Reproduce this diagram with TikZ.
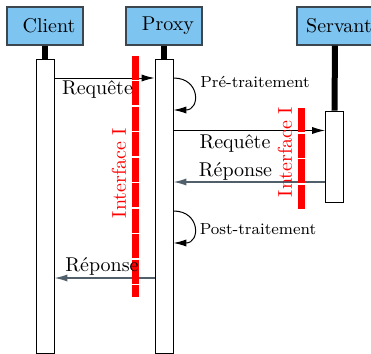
\documentclass[tikz,border=0pt]{standalone}
\usetikzlibrary{arrows.meta}
\definecolor{hdrblue}{RGB}{126,196,240}
\definecolor{hdredge}{RGB}{60,70,78}
\definecolor{retcol}{RGB}{80,95,105}
\tikzset{
  hdr/.style={draw=hdredge,line width=0.6pt,fill=hdrblue,minimum width=38pt,minimum height=19pt,inner sep=0pt,font=\normalsize},
  actbox/.style={draw=black,line width=0.45pt,fill=white,minimum width=9pt,inner sep=0pt},
  lifeln/.style={line width=3pt,black},
  msg/.style={line width=0.5pt,-{Latex[length=6.5pt,width=3.6pt]}},
  retmsg/.style={msg,line width=0.7pt,draw=retcol},
  redbar/.style={line width=3.5pt,red,dash pattern=on 12.2pt off 0.55pt},
  lbl/.style={inner sep=0pt,font=\normalsize},
  slbl/.style={inner sep=0pt,font=\footnotesize},
  ilbl/.style={inner sep=0pt,font=\normalsize,text=red,rotate=90}
}
\begin{document}
\begin{tikzpicture}[x=0.5pt,y=-0.5pt]
\useasboundingbox (0,0) rectangle (371,354);
\clip (0,0) rectangle (371,354);
% headers
\node[hdr] (client) at (45,26) {\hspace{4pt}Client};
\node[hdr] (proxy) at (164,26) {\hspace{4pt}Proxy};
\node[hdr] (servant) at (335,26) {\hspace{4pt}Servant};
% activation boxes
\node[actbox,minimum height=147pt] (cact) at (45,206) {};
\node[actbox,minimum height=147pt] (pact) at (164,206) {};
\node[actbox,minimum height=45.5pt] (sact) at (334.5,156.5) {};
% lifelines
\draw[lifeln] (client.south) -- (cact.north);
\draw[lifeln] (proxy.south) -- (pact.north);
\draw[lifeln] (servant.south) -- (sact.north);
% levels
\coordinate (y1) at (0,78);
\coordinate (y2) at (0,110);
\coordinate (y3) at (0,130.5);
\coordinate (y4) at (0,182);
\coordinate (y5) at (0,211);
\coordinate (y6) at (0,243);
\coordinate (y7) at (0,278);
% messages
\draw[msg] (cact.east |- y1) -- (pact.west |- y1);
\draw[msg] (pact.east |- y1) .. controls +(27,0) and +(27,0) .. (pact.east |- y2);
\draw[msg] (pact.east |- y3) -- (sact.west |- y3);
\draw[retmsg] (sact.west |- y4) -- (pact.east |- y4);
\draw[msg] (pact.east |- y5) .. controls +(27,0) and +(27,0) .. (pact.east |- y6);
\draw[retmsg] (pact.west |- y7) -- (cact.east |- y7);
% interface bars
\coordinate (ib1a) at (136,55.5);
\coordinate (ib1b) at (136,297);
\coordinate (ib2a) at (302,108);
\coordinate (ib2b) at (302,209);
\draw[redbar] (ib1a) -- (ib1b);
\draw[redbar] (ib2a) -- (ib2b);
% labels
\node[lbl] (l1) at (97.5,90) {Requête};
\node[slbl] (l2) at (255,82) {Pré-traitement};
\node[lbl] (l3) at (235,144) {Requête};
\node[lbl] (l4) at (235.5,171) {Réponse};
\node[slbl] (l5) at (258,229) {Post-traitement};
\node[lbl] (l6) at (102,266) {Réponse};
\node[ilbl] (i1) at (119,173) {Interface I};
\node[ilbl] (i2) at (285,152) {Interface I};
\end{tikzpicture}
\end{document}
